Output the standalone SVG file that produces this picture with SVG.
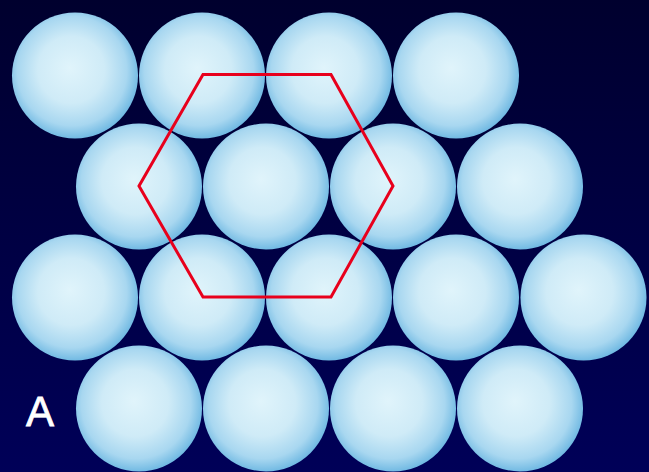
<svg xmlns="http://www.w3.org/2000/svg" width="649" height="472" viewBox="0 0 649 472">
<defs>
<linearGradient id="bg" x1="0" y1="0" x2="0" y2="1">
<stop offset="0" stop-color="#00002e"/>
<stop offset="1" stop-color="#000058"/>
</linearGradient>
<radialGradient id="ball" cx="0.48" cy="0.47" r="0.53" fx="0.46" fy="0.44">
<stop offset="0" stop-color="#e0f4fb"/>
<stop offset="0.5" stop-color="#cfebf7"/>
<stop offset="0.82" stop-color="#a8d7f0"/>
<stop offset="1" stop-color="#72bae3"/>
</radialGradient>
<style>
.b{fill:url(#ball)}
.hex{fill:none;stroke:#e8001c;stroke-width:3;stroke-linejoin:miter}
.lbl{font-family:"Liberation Sans",Arial,sans-serif;font-size:42px;fill:#ffffff;stroke:#ffffff;stroke-width:0.8}
</style>
</defs>
<rect width="649" height="472" fill="url(#bg)"/>
<g id="atoms">
<g id="r1">
<circle class="b" cx="75" cy="75.5" r="63"/>
<circle class="b" cx="202" cy="75.5" r="63"/>
<circle class="b" cx="329" cy="75.5" r="63"/>
<circle class="b" cx="456" cy="75.5" r="63"/>
</g>
<g id="r2">
<circle class="b" cx="139" cy="186.5" r="63"/>
<circle class="b" cx="266" cy="186.5" r="63"/>
<circle class="b" cx="393" cy="186.5" r="63"/>
<circle class="b" cx="520" cy="186.5" r="63"/>
</g>
<g id="r3">
<circle class="b" cx="75" cy="297.5" r="63"/>
<circle class="b" cx="202" cy="297.5" r="63"/>
<circle class="b" cx="329" cy="297.5" r="63"/>
<circle class="b" cx="456" cy="297.5" r="63"/>
<circle class="b" cx="583.5" cy="297.5" r="63"/>
</g>
<g id="r4">
<circle class="b" cx="139" cy="408.5" r="63"/>
<circle class="b" cx="266" cy="408.5" r="63"/>
<circle class="b" cx="393" cy="408.5" r="63"/>
<circle class="b" cx="520" cy="408.5" r="63"/>
</g>
</g>
<g id="hexagon">
<polygon class="hex" points="203,74.5 331,74.5 393,186 331,297 203,297 139,186"/>
</g>
<text class="lbl" x="26" y="426">A</text>
</svg>
